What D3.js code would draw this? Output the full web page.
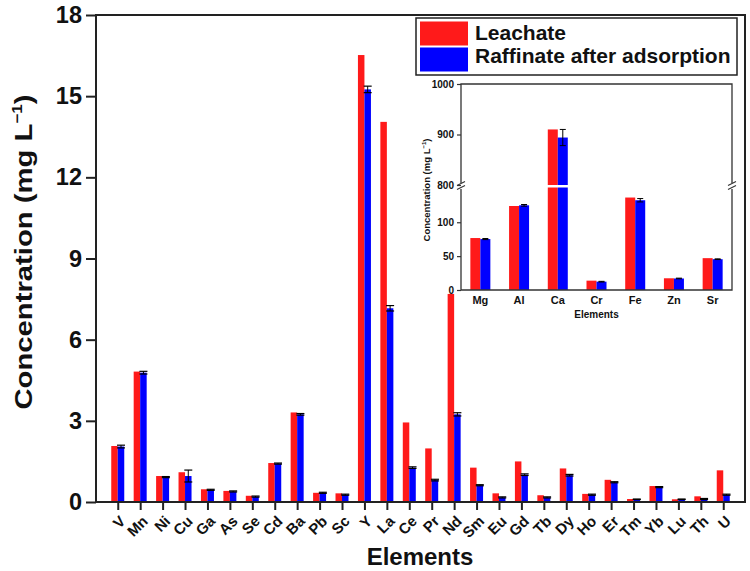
<!DOCTYPE html>
<html>
<head>
<meta charset="utf-8">
<script src="https://cdn.jsdelivr.net/npm/d3@7"></script>
<style>
  body { margin: 0; background: #fff; }
  text { font-family: "Liberation Sans", Arial, sans-serif; font-weight: bold; }
</style>
</head>
<body>
<div id="chart"></div>
<script>
// main chart data (mg/L)
const elements = ['V','Mn','Ni','Cu','Ga','As','Se','Cd','Ba','Pb','Sc','Y','La','Ce','Pr','Nd','Sm','Eu','Gd','Tb','Dy','Ho','Er','Tm','Yb','Lu','Th','U'];
const leachate = [2.07,4.82,0.96,1.10,0.47,0.41,0.23,1.44,3.31,0.34,0.32,16.52,14.05,2.94,1.98,7.69,1.27,0.32,1.50,0.25,1.24,0.30,0.82,0.11,0.59,0.10,0.21,1.17];
const raffinate = [2.05,4.78,0.92,0.96,0.45,0.39,0.20,1.42,3.24,0.34,0.27,15.25,7.16,1.27,0.81,3.24,0.62,0.17,1.01,0.17,0.99,0.27,0.73,0.10,0.55,0.10,0.11,0.27];
const raffErr = [0.05,0.05,0.02,0.22,0.02,0.02,0.02,0.02,0.03,0.02,0.02,0.12,0.10,0.03,0.03,0.06,0.02,0.02,0.03,0.02,0.03,0.02,0.02,0.01,0.02,0.01,0.02,0.02];
const yTicks = [0,3,6,9,12,15,18];

// inset data
const insetElements = ['Mg','Al','Ca','Cr','Fe','Zn','Sr'];
const insetLeachate = [76.7,124,910,13.8,136.5,17.3,47];
const insetRaffinate = [75.2,125,894,12.3,132.5,17,45.5];
const insetErr = [0.8,1.2,16,0.5,2.5,0.5,0.5];
const insetTicksLow = [0,50,100];
const insetTicksHigh = [800,900,1000];

const legendLabels = ['Leachate','Raffinate after adsorption'];
const colors = ['#ff1a1a','#0000ff'];

const W = 750, H = 571;
const svg = d3.select('#chart').append('svg')
  .attr('width', W).attr('height', H);

const mLeft = 96, mRight = 745, mTop = 15, mBottom = 502;

const x = d3.scalePoint()
  .domain(elements)
  .range([mLeft, mRight])
  .padding(0.97);

const y = d3.scaleLinear()
  .domain([0, 18])
  .range([mBottom, mTop]);

const bw = 6.5;

// bars
const g = svg.append('g');
g.selectAll('.red')
  .data(elements)
  .join('rect')
  .attr('class', 'red')
  .attr('x', d => x(d) - bw)
  .attr('width', bw)
  .attr('y', (d, i) => y(leachate[i]))
  .attr('height', (d, i) => mBottom - y(leachate[i]))
  .attr('fill', colors[0]);

g.selectAll('.blue')
  .data(elements)
  .join('rect')
  .attr('class', 'blue')
  .attr('x', d => x(d))
  .attr('width', bw)
  .attr('y', (d, i) => y(raffinate[i]))
  .attr('height', (d, i) => mBottom - y(raffinate[i]))
  .attr('fill', colors[1]);

// error bars on raffinate
elements.forEach((d, i) => {
  const cx = x(d) + bw / 2;
  const y1 = y(raffinate[i] + raffErr[i]), y2 = y(raffinate[i] - raffErr[i]);
  g.append('line').attr('x1', cx).attr('x2', cx).attr('y1', y1).attr('y2', y2)
    .attr('stroke', '#000').attr('stroke-width', 1);
  [y1, y2].forEach(yy => g.append('line')
    .attr('x1', cx - 4).attr('x2', cx + 4).attr('y1', yy).attr('y2', yy)
    .attr('stroke', '#000').attr('stroke-width', 1.2));
});

// axes
const yAxis = svg.append('g')
  .attr('transform', `translate(${mLeft},0)`)
  .call(d3.axisLeft(y).tickValues(yTicks).tickSize(10).tickPadding(4));
yAxis.select('.domain').remove();
yAxis.selectAll('line').attr('stroke', '#222').attr('stroke-width', 2);
yAxis.selectAll('text').attr('font-size', 23.5).attr('fill', '#111');

const xAxis = svg.append('g')
  .attr('transform', `translate(0,${mBottom})`)
  .call(d3.axisBottom(x).tickSize(8));
xAxis.select('.domain').remove();
xAxis.selectAll('line').attr('stroke', '#222').attr('stroke-width', 2);
xAxis.selectAll('text')
  .attr('font-size', 15)
  .attr('fill', '#111')
  .attr('text-anchor', 'end')
  .attr('dy', '0.3em')
  .attr('transform', 'translate(5,17) rotate(-45)')
  .attr('y', 0).attr('x', 0);

// frame
svg.append('rect')
  .attr('x', mLeft).attr('y', mTop)
  .attr('width', mRight - mLeft).attr('height', mBottom - mTop)
  .attr('fill', 'none').attr('stroke', '#222').attr('stroke-width', 2);

// titles
svg.append('text')
  .attr('transform', `translate(32,252) rotate(-90)`)
  .attr('text-anchor', 'middle')
  .attr('font-size', 24)
  .attr('textLength', 315)
  .attr('lengthAdjust', 'spacingAndGlyphs')
  .attr('fill', '#111')
  .html('Concentration (mg L<tspan dy="-10" font-size="14">−1</tspan><tspan dy="10">)</tspan>');

svg.append('text')
  .attr('x', 420).attr('y', 565)
  .attr('text-anchor', 'middle')
  .attr('font-size', 24)
  .attr('fill', '#111')
  .text('Elements');

// legend
const lg = svg.append('g');
lg.append('rect')
  .attr('x', 416).attr('y', 18).attr('width', 321).attr('height', 57)
  .attr('fill', '#fff').attr('stroke', '#222').attr('stroke-width', 1.5);
legendLabels.forEach((lab, i) => {
  lg.append('rect')
    .attr('x', 420).attr('y', 21.5 + i * 26).attr('width', 48).attr('height', 24)
    .attr('fill', colors[i]);
  lg.append('text')
    .attr('x', 475).attr('y', 40 + i * 22.5)
    .attr('font-size', 21)
    .attr('fill', '#111')
    .text(lab);
});

// inset
const iL = 461, iR = 732, iT = 84, iB = 290, iBreak = 185;
const ix = d3.scaleBand()
  .domain(insetElements)
  .range([iL, iR]);
const yLow = d3.scaleLinear().domain([0, 155]).range([iB, iBreak]);
const yHigh = d3.scaleLinear().domain([800, 1000]).range([iBreak, iT]);
const yi = v => v <= 155 ? yLow(v) : yHigh(v);
const ibw = 10;

const ig = svg.append('g');
insetElements.forEach((d, i) => {
  const cx = ix(d) + ix.bandwidth() / 2;
  ig.append('rect')
    .attr('x', cx - ibw).attr('width', ibw)
    .attr('y', yi(insetLeachate[i])).attr('height', iB - yi(insetLeachate[i]))
    .attr('fill', colors[0]);
  ig.append('rect')
    .attr('x', cx).attr('width', ibw)
    .attr('y', yi(insetRaffinate[i])).attr('height', iB - yi(insetRaffinate[i]))
    .attr('fill', colors[1]);
  const ex = cx + ibw / 2;
  const e1 = yi(insetRaffinate[i] + insetErr[i]), e2 = yi(insetRaffinate[i] - insetErr[i]);
  ig.append('line').attr('x1', ex).attr('x2', ex).attr('y1', e1).attr('y2', e2)
    .attr('stroke', '#000').attr('stroke-width', 1);
  [e1, e2].forEach(yy => ig.append('line')
    .attr('x1', ex - 3).attr('x2', ex + 3).attr('y1', yy).attr('y2', yy)
    .attr('stroke', '#000').attr('stroke-width', 1));
});

// break gap across the tall bar
ig.append('rect')
  .attr('x', iL + 1).attr('y', iBreak).attr('width', iR - iL - 2).attr('height', 2.5)
  .attr('fill', '#fff');

// inset frame
ig.append('path')
  .attr('d', `M${iL},${iT}H${iR}V${iB}H${iL}Z`)
  .attr('fill', 'none').attr('stroke', '#333').attr('stroke-width', 1.3);

// break marks on the sides
[iL, iR].forEach(bx => {
  ig.append('rect').attr('x', bx - 4).attr('y', iBreak - 2).attr('width', 8).attr('height', 6).attr('fill', '#fff');
  [-1.5, 2.5].forEach(o => ig.append('line')
    .attr('x1', bx - 4).attr('x2', bx + 4)
    .attr('y1', iBreak + o + 2).attr('y2', iBreak + o - 2)
    .attr('stroke', '#333').attr('stroke-width', 1.2));
});

// inset y ticks
const iyLow = ig.append('g').attr('transform', `translate(${iL},0)`)
  .call(d3.axisLeft(yLow).tickValues(insetTicksLow).tickSize(4).tickPadding(3).tickFormat(d3.format('d')));
const iyHigh = ig.append('g').attr('transform', `translate(${iL},0)`)
  .call(d3.axisLeft(yHigh).tickValues(insetTicksHigh).tickSize(4).tickPadding(3).tickFormat(d3.format('d')));
[iyLow, iyHigh].forEach(a => {
  a.select('.domain').remove();
  a.selectAll('line').attr('stroke', '#333').attr('stroke-width', 1.2);
  a.selectAll('text').attr('font-size', 10).attr('fill', '#111');
});

const ixAxis = ig.append('g').attr('transform', `translate(0,${iB})`)
  .call(d3.axisBottom(ix).tickSize(0).tickPadding(6));
ixAxis.select('.domain').remove();
ixAxis.selectAll('text').attr('font-size', 11).attr('fill', '#111');

ig.append('text')
  .attr('transform', `translate(430,190) rotate(-90)`)
  .attr('text-anchor', 'middle')
  .attr('font-size', 9.5)
  .attr('fill', '#111')
  .html('Concentration (mg L<tspan dy="-4" font-size="6">−1</tspan><tspan dy="4">)</tspan>');

ig.append('text')
  .attr('x', (iL + iR) / 2).attr('y', 318)
  .attr('text-anchor', 'middle')
  .attr('font-size', 10)
  .attr('fill', '#111')
  .text('Elements');
</script>
</body>
</html>
